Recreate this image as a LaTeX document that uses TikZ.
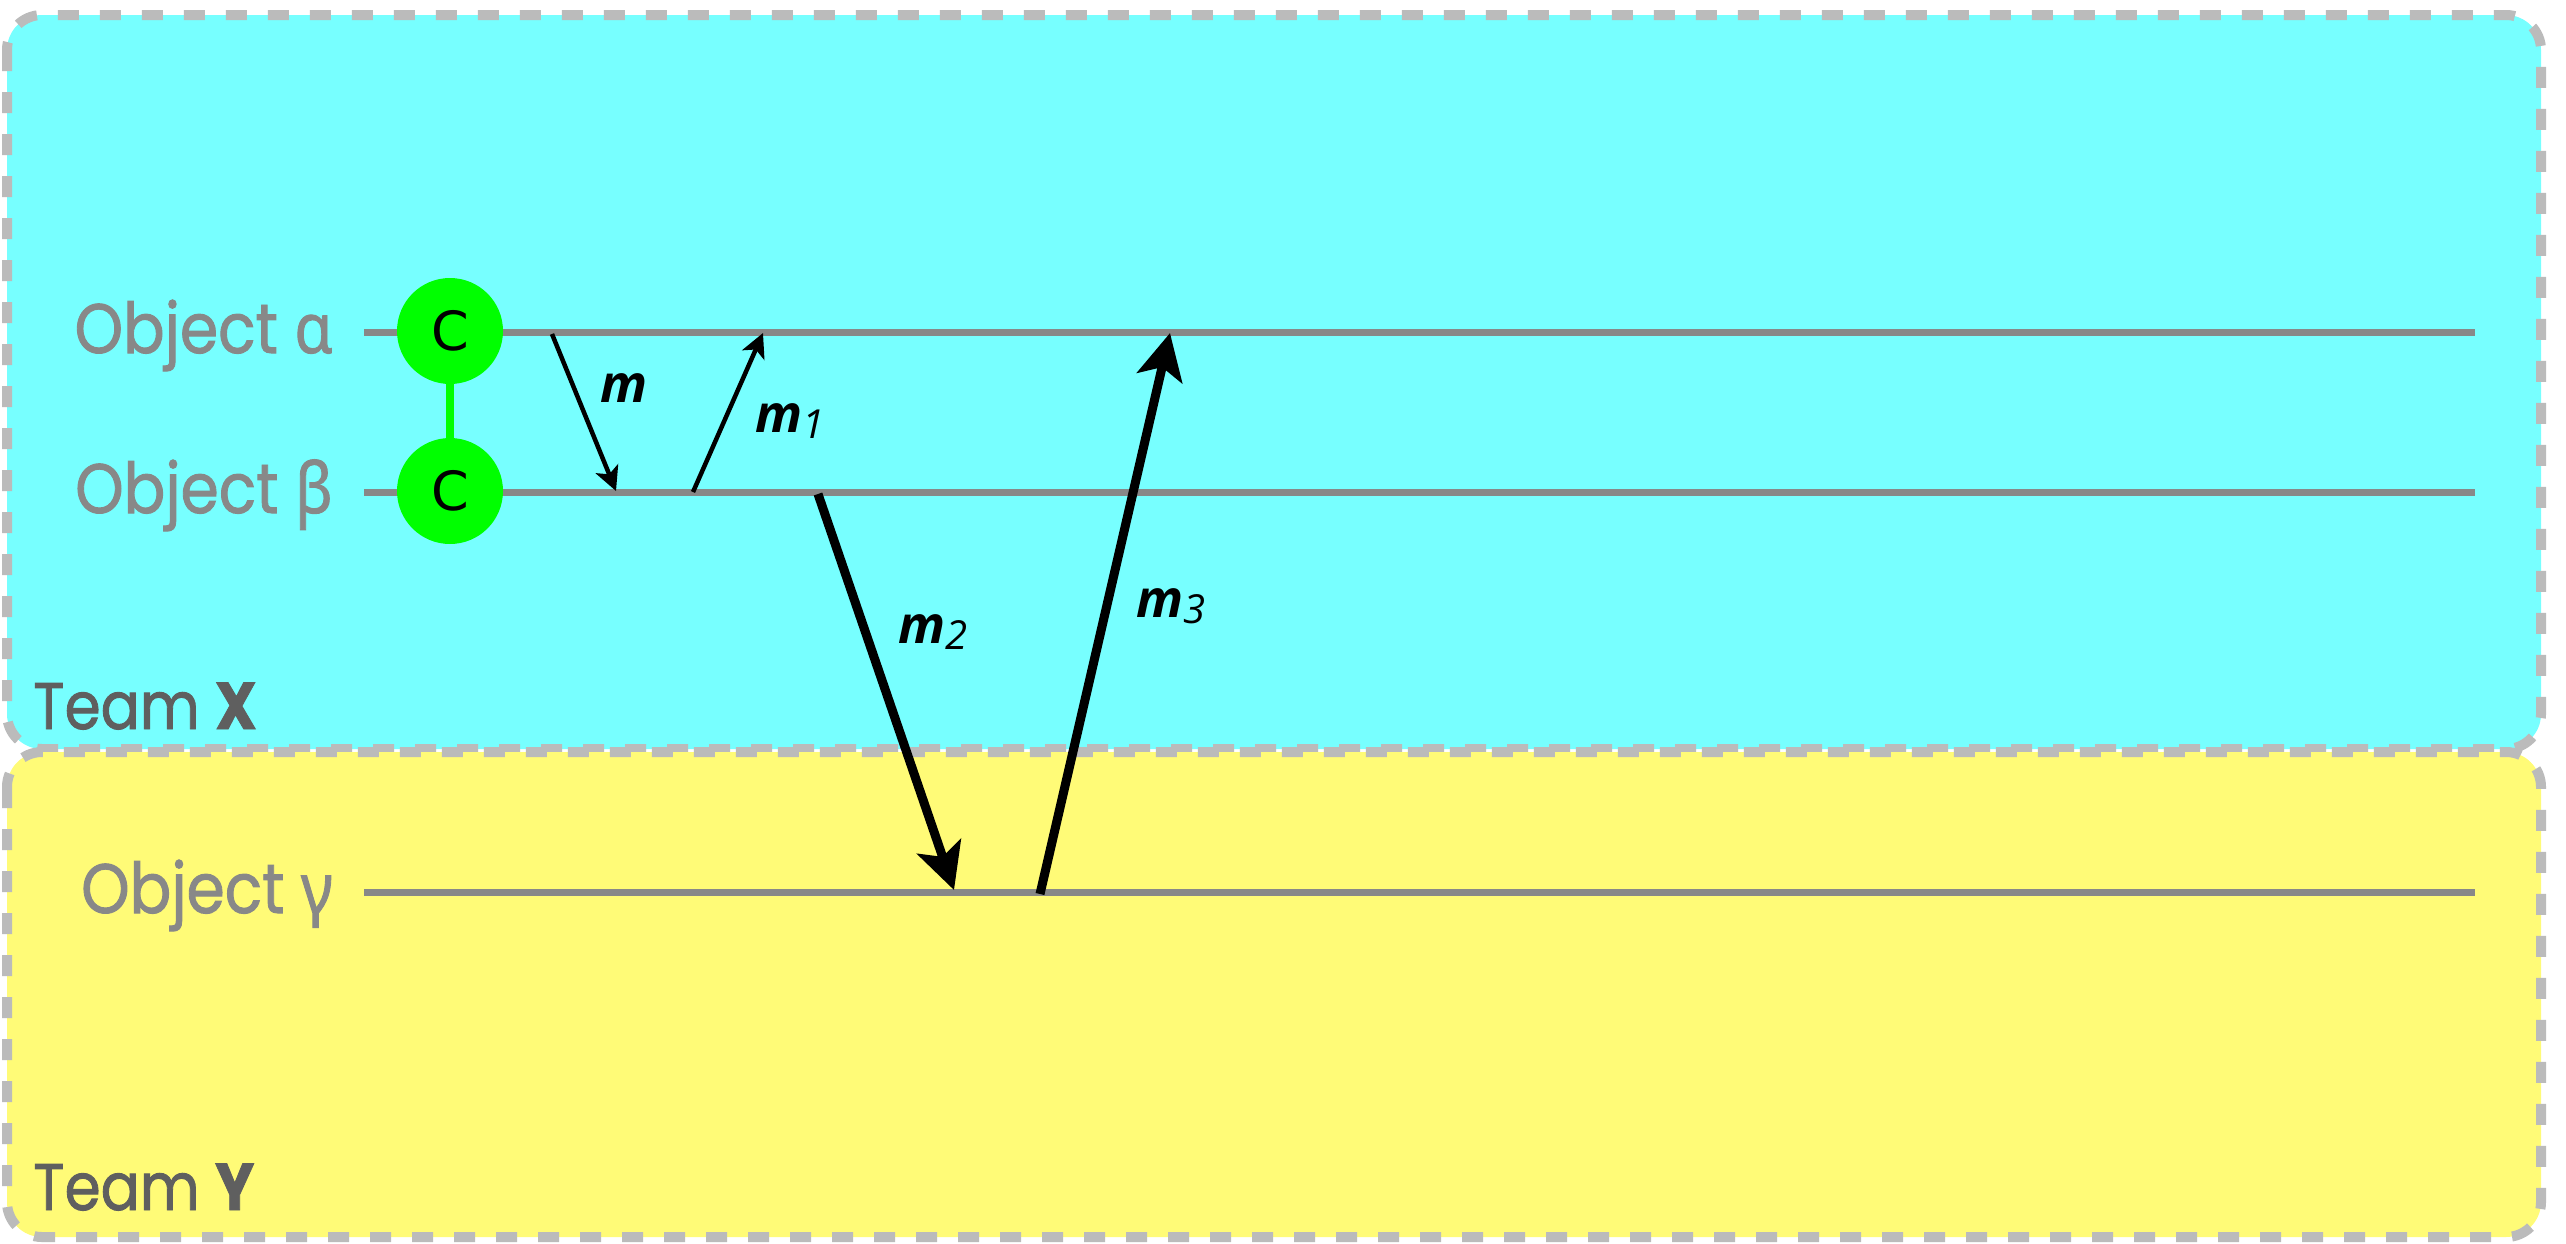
\documentclass[tikz,border=0pt]{standalone}
\usepackage{fontspec}
\setmainfont{Poppins}[FakeBold=1.4]
\newfontfamily\greekf{Noto Sans}[FakeBold=1.4]
\newfontfamily\labf{Open Sans}
\newfontfamily\cfont{DejaVu Sans}
\usetikzlibrary{arrows.meta}
\definecolor{cyanbg}{HTML}{77FFFF}
\definecolor{yellowbg}{HTML}{FFFB77}
\definecolor{dashgray}{HTML}{BBBBBB}
\definecolor{linegray}{HTML}{888888}
\definecolor{teamgray}{HTML}{5F5F5F}
\definecolor{cgreen}{HTML}{00FF00}
\tikzset{
  teambox/.style={draw=dashgray, line width=10pt, dash pattern=on 21pt off 21pt, rounded corners=35pt},
  lifeline/.style={draw=linegray, line width=7pt},
  objlab/.style={text=linegray, anchor=base east, inner sep=0pt, font=\fontsize{70}{76}\selectfont},
  teamlab/.style={text=teamgray, anchor=base west, inner sep=0pt, font=\fontsize{66}{72}\selectfont},
  cnode/.style={circle, fill=cgreen, minimum size=106pt, inner sep=0pt, font=\cfont\fontsize{54}{54}\selectfont},
  clink/.style={draw=cgreen, line width=8pt},
  thinmsg/.style={draw=black, line width=4.5pt, -{Stealth[length=24pt, width=24pt, inset=6pt]}},
  thickmsg/.style={draw=black, line width=9pt, -{Stealth[length=46pt, width=46pt, inset=11pt]}},
  mlab/.style={anchor=base west, inner sep=0pt, font=\labf\bfseries\itshape\fontsize{52}{56}\selectfont},
}
\newcommand{\msub}[1]{\raisebox{-6pt}{\labf\mdseries\itshape\fontsize{40}{40}\selectfont #1}}
\newcommand{\squish}[1]{\scalebox{0.88}[1]{#1}}
\begin{document}
\begin{tikzpicture}[x=1pt, y=-1pt]
\useasboundingbox (0,0) rectangle (2566,1243);
% team boxes
\path[teambox, fill=cyanbg] (7,15) rectangle (2541,749);
\path[teambox, fill=yellowbg] (7,752) rectangle (2541,1237);
% lifelines
\coordinate (aS) at (364,332); \coordinate (aE) at (2475,332);
\coordinate (bS) at (364,492); \coordinate (bE) at (2475,492);
\coordinate (gS) at (364,892); \coordinate (gE) at (2475,892);
\draw[lifeline] (aS) -- (aE);
\draw[lifeline] (bS) -- (bE);
\draw[lifeline] (gS) -- (gE);
% object labels
\node[objlab] (la) at (333,353) {\squish{Object {\greekf α}}};
\node[objlab] (lb) at (333,513) {\squish{Object {\greekf β}}};
\node[objlab] (lg) at (333,913) {\squish{Object {\greekf γ}}};
% C nodes
\node[cnode] (ca) at (450,331) {C};
\node[cnode] (cb) at (450,491) {C};
\draw[clink] (ca) -- (cb);
% messages
\coordinate (m0s) at (552,334); \coordinate (m0e) at (616,491);
\coordinate (m1s) at (693,492); \coordinate (m1e) at (763,333);
\coordinate (m2s) at (818,494); \coordinate (m2e) at (954,890);
\coordinate (m3s) at (1040,894); \coordinate (m3e) at (1170,333);
\draw[thinmsg] (m0s) -- (m0e);
\draw[thinmsg] (m1s) -- (m1e);
\draw[thickmsg] (m2s) -- (m2e);
\draw[thickmsg] (m3s) -- (m3e);
% message labels
\node[mlab] (t0) at (600,402) {m};
\node[mlab] (t1) at (755,432) {m\msub{1}};
\node[mlab] (t2) at (898,643) {m\msub{2}};
\node[mlab] (t3) at (1136,617) {m\msub{3}};
% team labels
\node[teamlab] (tx) at (33,729) {\squish{Team \textbf{X}}};
\node[teamlab] (ty) at (33,1210) {\squish{Team \textbf{Y}}};
\end{tikzpicture}
\end{document}
